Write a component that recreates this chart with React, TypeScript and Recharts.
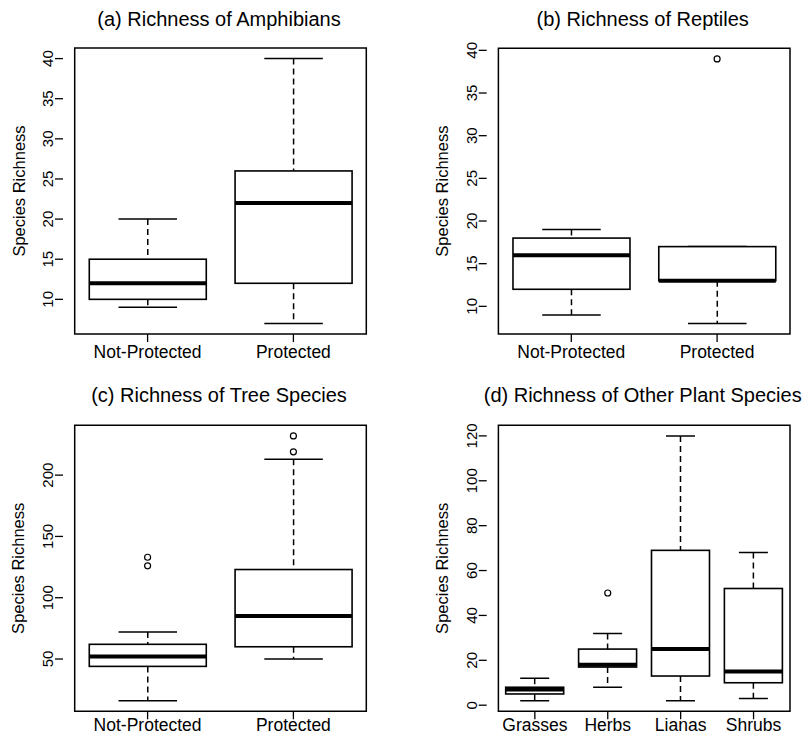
import { Bar, ComposedChart, ReferenceArea, Scatter, XAxis, YAxis } from 'recharts';

const FONT = '"Liberation Sans", Arial, Helvetica, sans-serif';
const INK = '#000';

// five-number summaries per group: [lower whisker, q1, median, q3, upper whisker]
const amphibianGroups = ['Not-Protected', 'Protected'];
const amphibianBoxes = [
  [9, 10, 12, 15, 20],
  [7, 12, 22, 26, 40],
];
const amphibianOutliers: number[][] = [[], []];
const amphibianTicks = [10, 15, 20, 25, 30, 35, 40];

const reptileGroups = ['Not-Protected', 'Protected'];
const reptileBoxes = [
  [9, 12, 16, 18, 19],
  [8, 13, 13, 17, 17],
];
const reptileOutliers: number[][] = [[], [39]];
const reptileTicks = [10, 15, 20, 25, 30, 35, 40];

const treeGroups = ['Not-Protected', 'Protected'];
const treeBoxes = [
  [16, 44, 52, 62, 72],
  [50, 60, 85, 123, 213],
];
const treeOutliers: number[][] = [[126, 133], [219, 232]];
const treeTicks = [50, 100, 150, 200];

const plantGroups = ['Grasses', 'Herbs', 'Lianas', 'Shrubs'];
const plantBoxes = [
  [2, 5, 7, 8, 12],
  [8, 17, 18, 25, 32],
  [2, 13, 25, 69, 120],
  [3, 10, 15, 52, 68],
];
const plantOutliers: number[][] = [[], [50], [], []];
const plantTicks = [0, 20, 40, 60, 80, 100, 120];

type BoxRow = {
  group: string;
  lo: number;
  q1: number;
  med: number;
  q3: number;
  hi: number;
  o1: number | null;
  o2: number | null;
};

function buildRows(groups: string[], boxes: number[][], outliers: number[][]): BoxRow[] {
  return groups.map((group, i) => {
    const [lo, q1, med, q3, hi] = boxes[i];
    const out = outliers[i] ?? [];
    return { group, lo, q1, med, q3, hi, o1: out[0] ?? null, o2: out[1] ?? null };
  });
}

// R pads the data range by 4% on each side
function rDomain(boxes: number[][], outliers: number[][]): [number, number] {
  const all = [...boxes.flat(), ...outliers.flat()];
  const lo = Math.min(...all);
  const hi = Math.max(...all);
  const pad = (hi - lo) * 0.04;
  return [lo - pad, hi + pad];
}

function BoxShape(props: any) {
  const { x, y, width, height, payload } = props;
  if (!payload) return <g />;
  const { lo, q1, med, q3, hi } = payload as BoxRow;
  const span = hi - lo;
  const py = (v: number) => (span === 0 ? y : y + ((hi - v) / span) * height);
  const cx = x + width / 2;
  const cap = width / 4;
  return (
    <g>
      <line x1={cx} x2={cx} y1={py(hi)} y2={py(q3)} stroke={INK} strokeWidth={1.5} strokeDasharray="6 4" />
      <line x1={cx} x2={cx} y1={py(q1)} y2={py(lo)} stroke={INK} strokeWidth={1.5} strokeDasharray="6 4" />
      <line x1={cx - cap} x2={cx + cap} y1={py(hi)} y2={py(hi)} stroke={INK} strokeWidth={1.5} />
      <line x1={cx - cap} x2={cx + cap} y1={py(lo)} y2={py(lo)} stroke={INK} strokeWidth={1.5} />
      <rect x={x} y={py(q3)} width={width} height={py(q1) - py(q3)} fill="#fff" stroke={INK} strokeWidth={1.6} />
      <line x1={x} x2={x + width} y1={py(med)} y2={py(med)} stroke={INK} strokeWidth={4} />
    </g>
  );
}

const outlierShape = (key: 'o1' | 'o2') => (props: any) => {
  const { cx, cy, payload } = props;
  if (!payload || payload[key] == null || !Number.isFinite(cy)) return <g />;
  return <circle cx={cx} cy={cy} r={3} fill="none" stroke={INK} strokeWidth={1.2} />;
};

function XTick({ x, y, payload, dy }: any) {
  return (
    <text x={x} y={y + (dy ?? 14)} textAnchor="middle" fontSize={17.5} fontFamily={FONT} fill={INK}>
      {payload.value}
    </text>
  );
}

function YTick({ x, y, payload }: any) {
  return (
    <text
      x={x}
      y={y}
      transform={`rotate(-90 ${x} ${y})`}
      textAnchor="middle"
      fontSize={15}
      fontFamily={FONT}
      fill={INK}
    >
      {payload.value}
    </text>
  );
}

function YLabel(props: any) {
  const vb = props.viewBox ?? {};
  const bx = vb.x + vb.width - 38.5;
  const cy = vb.y + vb.height / 2;
  return (
    <text
      x={bx}
      y={cy}
      transform={`rotate(-90 ${bx} ${cy})`}
      textAnchor="middle"
      fontSize={16.5}
      fontFamily={FONT}
      fill={INK}
    >
      Species Richness
    </text>
  );
}

type PanelProps = {
  title: string;
  groups: string[];
  boxes: number[][];
  outliers: number[][];
  ticks: number[];
  left: number;
  top: number;
  margin: { top: number; right: number; bottom: number; left: number };
  xAxisHeight: number;
  titleBaseline: number;
  labelDy: number;
};

const W = 404;
const H = 368;

function BoxPanel(p: PanelProps) {
  const rows = buildRows(p.groups, p.boxes, p.outliers);
  const domain = rDomain(p.boxes, p.outliers);
  const frameLeft = p.margin.left + 55;
  const frameRight = W - p.margin.right;
  const titleX = (frameLeft + frameRight) / 2 - 1.5;
  return (
    <div style={{ position: 'absolute', left: p.left, top: p.top, width: W, height: H }}>
      <ComposedChart width={W} height={H} data={rows} margin={p.margin} barCategoryGap="10%">
        <XAxis
          dataKey="group"
          type="category"
          interval={0}
          padding={{ left: 11.7, right: 11.7 }}
          height={p.xAxisHeight}
          axisLine={false}
          tickSize={8}
          tickLine={{ stroke: INK, strokeWidth: 1.3 }}
          tick={<XTick dy={p.labelDy} />}
        />
        <YAxis
          type="number"
          domain={domain}
          allowDataOverflow
          ticks={p.ticks}
          width={55}
          axisLine={false}
          tickSize={8}
          tickLine={{ stroke: INK, strokeWidth: 1.3 }}
          tick={<YTick />}
          label={{ content: <YLabel /> }}
        />
        <Bar dataKey={(d: BoxRow) => [d.lo, d.hi]} shape={<BoxShape />} isAnimationActive={false} />
        <Scatter dataKey="o1" shape={outlierShape('o1')} isAnimationActive={false} />
        <Scatter dataKey="o2" shape={outlierShape('o2')} isAnimationActive={false} />
        <ReferenceArea y1={domain[0]} y2={domain[1]} fill="none" stroke={INK} strokeWidth={1.5} ifOverflow="visible" />
      </ComposedChart>
      <svg
        width={W}
        height={40}
        style={{ position: 'absolute', left: 0, top: 0, overflow: 'visible', pointerEvents: 'none' }}
      >
        <text x={titleX} y={p.titleBaseline} textAnchor="middle" fontSize={20} fontFamily={FONT} fill={INK}>
          {p.title}
        </text>
      </svg>
    </div>
  );
}

export default function App() {
  return (
    <div
      style={{
        position: 'absolute',
        left: 0,
        top: 0,
        width: 808,
        height: 736,
        background: '#fff',
        overflow: 'hidden',
      }}
    >
      <BoxPanel
        title="(a) Richness of Amphibians"
        groups={amphibianGroups}
        boxes={amphibianBoxes}
        outliers={amphibianOutliers}
        ticks={amphibianTicks}
        left={0}
        top={0}
        margin={{ top: 48, right: 26, bottom: 4, left: 8 }}
        xAxisHeight={30}
        titleBaseline={25.5}
        labelDy={14}
      />
      <BoxPanel
        title="(b) Richness of Reptiles"
        groups={reptileGroups}
        boxes={reptileBoxes}
        outliers={reptileOutliers}
        ticks={reptileTicks}
        left={404}
        top={0}
        margin={{ top: 48.3, right: 6.3, bottom: 4, left: 27.7 }}
        xAxisHeight={30}
        titleBaseline={25.5}
        labelDy={14}
      />
      <BoxPanel
        title="(c) Richness of Tree Species"
        groups={treeGroups}
        boxes={treeBoxes}
        outliers={treeOutliers}
        ticks={treeTicks}
        left={0}
        top={368}
        margin={{ top: 57.3, right: 26, bottom: 0, left: 8 }}
        xAxisHeight={24.7}
        titleBaseline={33.5}
        labelDy={10}
      />
      <BoxPanel
        title="(d) Richness of Other Plant Species"
        groups={plantGroups}
        boxes={plantBoxes}
        outliers={plantOutliers}
        ticks={plantTicks}
        left={404}
        top={368}
        margin={{ top: 57.3, right: 6.3, bottom: 0, left: 27.7 }}
        xAxisHeight={24.7}
        titleBaseline={33.5}
        labelDy={10}
      />
    </div>
  );
}
